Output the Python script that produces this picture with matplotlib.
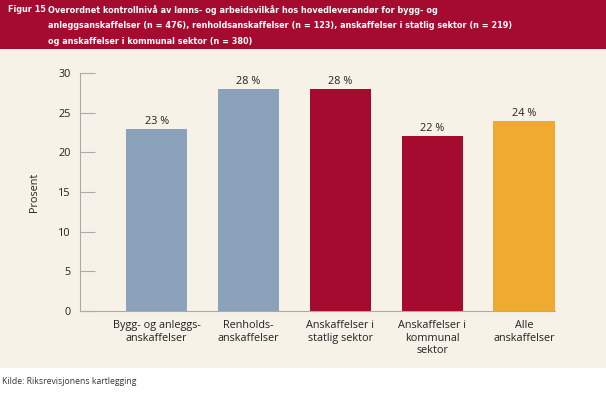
import matplotlib
matplotlib.use("Agg")
import matplotlib.pyplot as plt
from matplotlib.patches import Rectangle

categories = ["Bygg- og anleggs-\nanskaffelser", "Renholds-\nanskaffelser",
              "Anskaffelser i\nstatlig sektor", "Anskaffelser i\nkommunal\nsektor",
              "Alle\nanskaffelser"]
values = [23, 28, 28, 22, 24]
bar_labels = ["23 %", "28 %", "28 %", "22 %", "24 %"]
colors = ["#8aa2ba", "#8aa2ba", "#a50a2f", "#a50a2f", "#f0aa32"]
yticks = [0, 5, 10, 15, 20, 25, 30]

title_lines = [
    "Overordnet kontrollnivå av lønns- og arbeidsvilkår hos hovedleverandør for bygg- og",
    "anleggsanskaffelser (n = 476), renholdsanskaffelser (n = 123), anskaffelser i statlig sektor (n = 219)",
    "og anskaffelser i kommunal sektor (n = 380)",
]

plt.rcParams['font.family'] = ['Open Sans', 'DejaVu Sans']

W, H = 606, 401
fig = plt.figure(figsize=(W / 100, H / 100), dpi=100)
fig.patch.set_facecolor("white")

# header band and cream panel
fig.patches.append(Rectangle((0, 1 - 49 / H), 1, 49 / H, transform=fig.transFigure,
                             facecolor="#a50a2f", edgecolor="none", zorder=-5))
fig.patches.append(Rectangle((0, 1 - 368 / H), 1, (368 - 49) / H, transform=fig.transFigure,
                             facecolor="#f7f2e8", edgecolor="none", zorder=-5))

title_font = ['DejaVu Sans']
fig.text(8 / W, 1 - 10 / H, "Figur 15", color="white", fontsize=6.5, fontweight="bold",
         family=title_font, fontstretch="condensed", va="center", ha="left")
for i, line in enumerate(title_lines):
    fig.text(48 / W, 1 - (10 + 16 * i) / H, line, color="white", fontsize=6.5,
             fontweight="bold", family=title_font, fontstretch="condensed",
             va="center", ha="left")

ax = fig.add_axes([80 / W, (H - 311) / H, (555 - 80) / W, (311 - 73) / H])
ax.set_facecolor("none")
x = range(len(values))
ax.bar(x, values, width=0.67, color=colors, zorder=2)
for xi, v, lab in zip(x, values, bar_labels):
    ax.text(xi, v + 0.25, lab, ha="center", va="bottom", fontsize=7.8, color="#222222")

ax.set_xlim(-0.835, 4.335)
ax.set_ylim(0, 30)
ax.set_yticks(yticks)
ax.set_xticks(list(x))
ax.set_xticklabels(categories, fontsize=7.8, color="#222222", linespacing=1.2)
ax.tick_params(axis="y", direction="in", length=11, color="#aaaaaa", labelsize=7.8,
               labelcolor="#222222", pad=6.5)
ax.tick_params(axis="x", length=0, pad=6.5)
for s in ["top", "right"]:
    ax.spines[s].set_visible(False)
for s in ["left", "bottom"]:
    ax.spines[s].set_color("#aaaaaa")
    ax.spines[s].set_linewidth(0.8)
ax.set_ylabel("Prosent", fontsize=7.8, color="#222222", labelpad=13)

fig.text(2 / W, 1 - 382 / H, "Kilde: Riksrevisjonens kartlegging", fontsize=6.2,
         color="#333333", va="center", ha="left")

fig.savefig("out.png", dpi=100)
